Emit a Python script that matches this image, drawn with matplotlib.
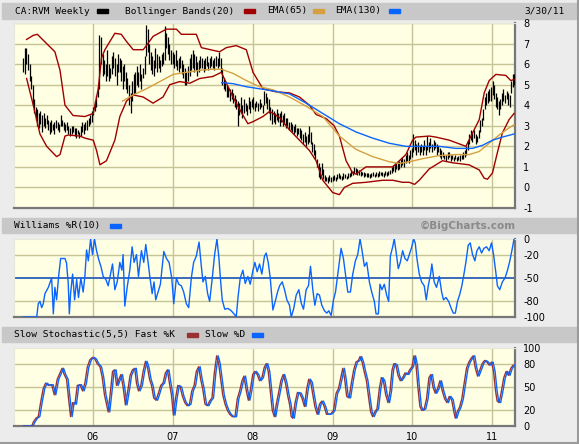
import numpy as np
import matplotlib.pyplot as plt
from matplotlib.patches import Rectangle

# ---- weekly price bars (low / high), first bar ~Feb 2005
lows = [5.6, 5.5, 6.0, 5.7, 5.2, 4.8, 4.0, 3.6, 3.3, 3.0, 2.9, 3.1, 2.7, 3.0, 2.9, 3.1, 2.8, 2.6, 2.7, 2.8,
        2.6, 2.9, 2.8, 2.7, 3.0, 3.0, 2.8, 2.7, 2.8, 2.6, 2.5, 2.6, 2.7, 2.5, 2.4, 2.6, 2.4, 2.5, 2.7, 2.6,
        2.8, 2.8, 3.0, 3.1, 3.2, 3.5, 3.7, 3.9, 4.4, 4.8, 6.0, 5.4, 5.5, 5.2, 5.4, 5.2, 5.3, 5.5, 5.8, 5.4,
        5.0, 5.6, 5.6, 5.2, 4.8, 5.2, 4.8, 4.6, 4.0, 3.6, 4.2, 4.5, 4.6, 5.0, 4.9, 5.2, 4.8, 5.3, 5.5, 6.4,
        6.6, 6.0, 5.7, 5.5, 5.4, 5.8, 5.6, 5.8, 5.6, 5.9, 6.0, 6.2, 6.8, 6.5, 6.2, 6.0, 6.0, 5.8, 5.9, 5.7,
        5.6, 5.8, 5.5, 5.3, 5.0, 5.0, 5.2, 5.4, 5.7, 5.8, 5.6, 5.7, 5.4, 5.6, 5.8, 5.8, 5.6, 5.7, 5.9, 5.7,
        5.8, 5.9, 5.8, 5.7, 5.9, 5.8, 5.9, 5.6, 5.0, 4.8, 4.7, 4.4, 4.4, 4.2, 4.3, 4.1, 3.9, 3.8, 3.0, 3.5,
        3.6, 3.4, 3.6, 3.7, 3.5, 3.8, 3.6, 3.9, 3.8, 3.7, 3.9, 3.7, 3.8, 3.9, 3.6, 4.0, 4.1, 3.8, 3.6, 3.3,
        3.1, 3.2, 3.1, 3.3, 3.2, 3.0, 3.2, 3.0, 3.1, 2.9, 3.0, 2.8, 2.8, 2.7, 2.6, 2.7, 2.5, 2.6, 2.4, 2.3,
        2.1, 2.2, 2.0, 2.1, 2.2, 2.1, 1.7, 1.6, 1.4, 1.0, 0.5, 0.4, 0.6, 0.4, 0.3, 0.3, 0.2, 0.3, 0.25, 0.3,
        0.35, 0.3, 0.4, 0.45, 0.4, 0.35, 0.4, 0.45, 0.4, 0.45, 0.5, 0.55, 0.6, 0.7, 0.65, 0.6, 0.6, 0.55, 0.6, 0.5,
        0.55, 0.5, 0.5, 0.45, 0.5, 0.55, 0.5, 0.55, 0.5, 0.55, 0.6, 0.55, 0.5, 0.6, 0.55, 0.6, 0.65, 0.7, 0.8, 0.75,
        0.9, 0.85, 0.9, 1.0, 1.1, 1.0, 1.2, 1.3, 1.2, 1.4, 1.5, 1.7, 1.8, 1.6, 1.7, 1.6, 1.7, 1.6, 1.8, 1.6,
        1.8, 1.7, 1.9, 1.7, 1.8, 1.9, 1.6, 1.7, 1.5, 1.4, 1.5, 1.4, 1.3, 1.4, 1.5, 1.3, 1.4, 1.3, 1.4, 1.3,
        1.35, 1.3, 1.4, 1.4, 1.5, 1.6, 1.8, 2.1, 2.3, 2.2, 2.4, 2.1, 2.2, 2.4, 2.7, 3.0, 3.3, 3.8, 4.0, 4.1,
        4.2, 4.2, 4.5, 4.3, 3.9, 3.8, 3.5, 3.8, 4.0, 4.2, 4.1, 4.3, 4.0, 3.9, 4.6, 4.9, 5.0]
highs = [6.3, 6.8, 6.8, 6.5, 6.0, 5.4, 5.0, 4.3, 3.9, 3.8, 3.6, 3.7, 3.5, 3.6, 3.4, 3.5, 3.3, 3.2, 3.3, 3.1,
         3.2, 3.3, 3.2, 3.1, 3.5, 3.3, 3.2, 3.1, 3.2, 3.0, 2.9, 3.0, 3.0, 2.9, 2.9, 2.8, 2.7, 3.0, 3.2, 3.1,
         3.2, 3.3, 3.4, 3.5, 3.7, 3.9, 4.2, 4.5, 4.9, 7.4, 7.3, 6.5, 6.2, 6.0, 6.7, 6.0, 5.8, 6.4, 6.6, 6.3,
         6.0, 6.5, 6.3, 6.2, 5.9, 6.0, 5.6, 5.3, 5.0, 4.6, 5.2, 5.5, 5.6, 5.9, 5.6, 6.0, 5.5, 5.8, 6.4, 7.9,
         7.7, 7.0, 6.6, 6.4, 6.2, 6.8, 6.5, 6.4, 6.2, 6.5, 6.6, 7.85, 7.5, 7.3, 7.0, 6.7, 6.6, 6.5, 6.7, 6.2,
         6.3, 6.4, 6.2, 6.0, 5.8, 5.6, 5.9, 6.3, 6.5, 6.7, 6.5, 6.4, 6.1, 6.2, 6.4, 6.3, 6.2, 6.3, 6.4, 6.1,
         6.3, 6.4, 6.2, 6.3, 6.4, 6.3, 6.6, 6.3, 5.8, 5.3, 5.2, 5.0, 4.9, 4.8, 4.8, 4.6, 4.5, 4.3, 4.2, 4.1,
         4.4, 4.0, 4.3, 4.1, 4.0, 4.4, 4.2, 4.3, 4.4, 4.1, 4.2, 4.1, 4.3, 4.1, 4.0, 4.7, 4.6, 4.4, 4.3, 3.9,
         3.8, 3.7, 3.6, 3.8, 3.6, 3.6, 3.7, 3.5, 3.6, 3.4, 3.4, 3.2, 3.2, 3.1, 3.0, 3.1, 2.9, 2.9, 2.9, 2.8,
         2.6, 2.7, 2.5, 2.6, 3.0, 2.7, 2.2, 2.1, 1.8, 1.4, 1.2, 1.0, 1.2, 0.9, 0.6, 0.5, 0.5, 0.6, 0.5, 0.55,
         0.6, 0.5, 0.65, 0.7, 0.6, 0.55, 0.7, 0.65, 0.55, 0.7, 0.7, 0.85, 0.8, 1.0, 0.95, 0.9, 0.85, 0.8, 0.75, 0.75,
         0.7, 0.7, 0.7, 0.65, 0.7, 0.75, 0.65, 0.75, 0.7, 0.8, 0.75, 0.75, 0.7, 0.8, 0.75, 0.8, 0.85, 1.0, 1.1, 1.2,
         1.2, 1.3, 1.3, 1.4, 1.5, 1.4, 1.6, 1.7, 1.6, 1.8, 1.9, 2.6, 2.3, 2.1, 2.2, 2.0, 2.1, 2.0, 2.3, 2.0,
         2.5, 2.2, 2.4, 2.1, 2.3, 2.2, 2.1, 2.0, 1.9, 1.8, 1.7, 1.6, 1.6, 1.7, 1.7, 1.6, 1.6, 1.5, 1.6, 1.5,
         1.55, 1.6, 1.6, 1.7, 1.8, 2.0, 2.3, 2.6, 2.8, 2.7, 2.8, 2.6, 2.5, 2.8, 3.3, 3.4, 3.8, 4.4, 4.6, 4.7,
         4.8, 4.9, 5.2, 5.0, 4.6, 4.4, 4.2, 4.3, 4.6, 4.8, 4.5, 4.7, 4.6, 4.5, 5.2, 5.5, 5.5]

# ---- overlays (week index, value)
bb_up_w = [2.1, 6.4, 9, 20.3, 23.6, 26.8, 32, 39.6, 45, 48.2, 50.3, 52.5, 55.7, 58.9, 63, 66.4, 70.7, 77.1,
           79.2, 83.5, 92, 98.5, 101.7, 111.3, 114.6, 126.3, 130.6, 137, 143.5, 147.8, 154.2, 162.7, 171.3,
           177.7, 184.1, 188.4, 194.9, 200, 203.4, 207.7, 212, 214.1, 220.5, 237.7, 242, 246.2, 250.5, 252.7,
           261.2, 265.5, 274.1, 284.8, 289.1, 293.4, 296.6, 299.8, 304.1, 310.5, 313.7, 315.8]
bb_up = [7.2, 7.4, 7.45, 6.6, 5.7, 4.0, 3.5, 3.45, 3.6, 4.8, 6.3, 6.7, 7.1, 7.5, 7.45, 7.1, 6.7, 6.7,
         6.9, 7.35, 7.7, 7.7, 7.45, 7.45, 6.8, 6.6, 6.8, 6.9, 6.7, 5.6, 4.8, 4.65, 4.6,
         4.4, 4.0, 3.55, 3.35, 3.0, 2.5, 1.3, 0.7, 0.65, 1.0, 1.0, 1.3, 1.6, 2.3, 2.45,
         2.5, 2.45, 2.3, 2.0, 2.65, 3.3, 4.6, 5.2, 5.5, 5.45, 5.2, 5.25]
bb_lo_w = [2.1, 6.4, 10.7, 15, 21.4, 23.6, 26.8, 28.9, 36.4, 39.6, 45, 47.1, 49.3, 53.5, 58.9, 62.1, 66.4,
           70.7, 77.1, 83.5, 89.9, 94.2, 100.6, 107.1, 113.5, 122, 127.4, 134.9, 139.2, 144.5, 147.8, 154.2,
           158.5, 164.9, 171.3, 177.7, 184.1, 188.4, 192.7, 199.1, 203.4, 206.6, 212, 220.5, 231.3, 237.7,
           244.1, 248.4, 251.8, 254.8, 261.2, 269.8, 276.2, 286.9, 293.4, 296.6, 298.7, 301.9, 305.1, 308.3,
           312.6, 315.8]
bb_lo = [5.3, 4.0, 2.6, 2.0, 1.5, 1.6, 2.5, 2.55, 2.5, 2.4, 2.3, 1.8, 1.1, 1.3, 2.3, 3.45, 4.2,
         4.5, 4.4, 4.1, 4.4, 5.0, 5.15, 5.07, 5.3, 5.4, 5.6, 4.4, 3.8, 3.1, 3.2, 3.45,
         3.7, 3.4, 2.8, 2.3, 1.8, 1.3, 0.35, -0.25, -0.35, 0.0, 0.2, 0.25, 0.35, 0.35,
         0.25, 0.25, 0.15, 0.35, 0.9, 1.3, 1.2, 1.1, 0.85, 0.45, 0.4, 0.7, 1.7, 2.65,
         3.3, 3.6]
ema65_w = [63.8, 70.7, 79.2, 87.8, 96.4, 104.9, 113.5, 122, 127.4, 134.9, 143.5, 152, 160.6, 171.3, 182,
           192.7, 203.4, 214.1, 224.8, 235.5, 242, 248.4, 257, 267.7, 278.4, 287, 293.4, 299.8, 306.2,
           312.6, 315.8]
ema65 = [4.2, 4.5, 4.8, 5.15, 5.5, 5.6, 5.7, 5.75, 5.75, 5.55, 5.2, 4.9, 4.75, 4.4, 3.95,
         3.45, 2.5, 1.85, 1.5, 1.25, 1.17, 1.25, 1.4, 1.55, 1.6, 1.6, 1.75, 2.15, 2.55,
         2.9, 3.05]
ema130_w = [127.6, 134.9, 143.5, 152, 160.6, 171.3, 182, 192.7, 203.4, 214.1, 224.8, 235.5, 246.2, 257,
            267.7, 278.4, 289.1, 295.5, 302, 308.3, 315.8]
ema130 = [5.1, 5.05, 4.9, 4.8, 4.7, 4.55, 4.1, 3.6, 3.1, 2.7, 2.4, 2.15, 2.0, 2.0,
          2.0, 1.9, 1.9, 2.05, 2.3, 2.45, 2.6]

# ---- Williams %R(10)
wr_w = [0, 8.6, 9.6, 10.7, 11.8, 12.8, 13.9, 16.1, 18.2, 19.3, 20.3, 21.4, 22.7, 24, 26.8, 27.8, 28.9,
        29.6, 30.4, 31.7, 33, 34.3, 35.5, 37, 38.5, 39.6, 40.7, 41.8, 43.3, 44.5, 45.8, 47.1, 48.6, 49.9,
        51.4, 53.1, 54.6, 56.1, 57.4, 58.9, 60.4, 62.1, 63.4, 64.2, 65.3, 66.8, 68.5, 70, 71.3, 72.8,
        74.1, 76, 77.5, 78.8, 80.3, 81.4, 82.9, 84.1, 85.2, 86.7, 88.2, 90.4, 92.1, 93.8, 95.5, 96.8,
        98.5, 100, 101.7, 103.2, 104.9, 106.4, 108.1, 109.6, 111.3, 113.1, 114.3, 115.6, 117.1, 118.6,
        119.9, 121.6, 123.1, 124.6, 125.9, 126.8, 128, 129.6, 131.7, 133.8, 136, 137, 138.3, 139.6,
        141.3, 142.8, 144.5, 146, 147.8, 149, 150.5, 152, 153.5, 155.2, 156.3, 157.6, 158.9, 160.6,
        162.1, 163.6, 164.9, 166.6, 168.1, 169.6, 171.3, 172.4, 173.9, 175.6, 177.3, 178.8, 180.3, 182,
        183.5, 184.8, 186.3, 187.6, 189.1, 190.6, 192.1, 193.8, 195.3, 196.6, 198.1, 199.6, 200.9,
        202.4, 203.4, 204.5, 206, 207.3, 208.8, 210.5, 212, 213.7, 215.2, 216.7, 218, 219.5, 221,
        222.7, 224.2, 225.9, 227, 228.5, 229.5, 230.8, 232.3, 233.8, 235.1, 236.2, 237.7, 238.7, 239.8,
        241.3, 242.6, 244.1, 245.6, 247.1, 248.4, 249.7, 251.2, 252.2, 253.3, 254.8, 256.3, 258, 259.3,
        260.6, 262.1, 262.9, 264.4, 265.9, 267.7, 269.2, 270.4, 272, 273.7, 275.2, 276.7, 278, 279.4,
        281, 282.2, 283.3, 284.8, 286.3, 287.6, 289.1, 290.6, 291.9, 293.4, 294.9, 296.4, 298.1,
        299.8, 301.3, 302.6, 303.9, 305.1, 306.6, 308.3, 310, 311.6, 313.1, 314.4, 315.8]
wr = [-100, -100, -83, -80, -88, -83, -70, -62, -50, -96, -62, -78, -48, -25, -25, -31, -57,
      -96, -70, -45, -78, -52, -75, -50, -68, -48, -14, -28, 0, -20, 0, -15, -27, -35,
      -48, -52, -60, -45, -32, -65, -55, -30, -40, -20, -86, -62, -40, -10, -30, -20,
      -48, -15, -30, -7, -30, -48, -70, -55, -78, -68, -58, -16, -25, -30, -50, -83,
      -50, -58, -60, -68, -83, -88, -50, -30, -22, -4, -30, -55, -48, -70,
      -80, -50, -20, 0, -25, -50, -78, -90, -89, -92, -97, -100, -72, -50,
      -40, -57, -48, -58, -40, -30, -42, -32, -45, -22, -18, -30, -50, -91,
      -80, -68, -60, -55, -65, -78, -85, -100, -90, -72, -65, -82, -90, -65,
      -60, -35, -65, -85, -70, -72, -85, -92, -95, -92, -98, -78, -68,
      -45, -30, -12, -25, -45, -68, -68, -45, -28, -20, 0, -15, -35, -30,
      -55, -68, -80, -96, -96, -58, -65, -58, -72, -80, -22, -10, 0, -15,
      -38, -30, -15, -25, -28, -20, -12, 0, -5, -25, -45, -55, -60, -78,
      -60, -45, -32, -55, -62, -48, -68, -78, -75, -80, -88, -95, -95, -80,
      -70, -60, -48, -30, -8, -5, -20, -28, -15, -10, -18, -12, -10,
      -15, -5, -20, -40, -60, -65, -55, -50, -40, -28, -15, 0]

# ---- Slow Stochastic(5,5) fast %K
st_w = [0, 5.4, 6.4, 8.1, 9.6, 11.1, 12.8, 14.3, 16.1, 18.2, 19.9, 21.8, 23.6, 24.9, 26.3, 27.8, 29.1,
        30.4, 31.7, 33.2, 34.7, 36.4, 38.1, 39.6, 41.1, 42.8, 44.5, 46, 47.5, 49.3, 50.7, 52.2, 53.5,
        54.6, 56.1, 57.4, 58.7, 60, 61.5, 62.8, 64.2, 65.7, 67.2, 68.7, 70.2, 71.7, 72.8, 74.1, 75.6,
        77.1, 78.6, 79.9, 81.2, 82.5, 83.9, 85.4, 86.9, 88.4, 89.9, 91.4, 92.7, 94, 95.3, 96.6, 97.9,
        99.4, 100.9, 102.4, 103.9, 105.4, 106.9, 108.4, 109.9, 111.3, 112.8, 114.1, 115.4, 116.9,
        118.4, 119.9, 121.4, 122.9, 124.4, 125.7, 127, 128.3, 129.8, 131.3, 132.8, 134.5, 136.2,
        137.7, 139.2, 140.7, 142, 143.5, 144.8, 146, 147.6, 149, 150.5, 152, 153.5, 155, 156.3,
        157.6, 158.9, 160.2, 161.5, 162.8, 164.2, 165.7, 167.2, 168.7, 170.2, 171.3, 172.4, 173.4,
        174.9, 176.4, 177.9, 179.4, 180.9, 182.4, 183.7, 185, 186.3, 187.6, 189.1, 190.6, 192.1,
        193.6, 195.1, 196.6, 198.1, 199.6, 201.3, 202.8, 204.3, 205.6, 206.8, 208.1, 209.6, 211.1,
        212.6, 214.1, 215.6, 216.7, 218, 219.3, 220.8, 222.3, 223.5, 224.8, 226.1, 227.6, 229.1,
        230.4, 231.7, 233.2, 234.7, 236, 237.3, 238.5, 239.8, 241.1, 242.6, 244.1, 245.6, 247.1,
        248.6, 250.1, 251.4, 252.7, 253.9, 255.2, 256.5, 258, 259.5, 261, 262.3, 263.6, 265.1,
        266.6, 268.1, 269.6, 271.1, 272.6, 274.1, 275.6, 277.1, 278, 279.2, 280.7, 282.2, 283.7,
        285.2, 286.7, 288.2, 289.5, 290.8, 292.3, 293.8, 295.3, 296.8, 298.3, 299.8, 301.3, 302.6,
        303.9, 304.9, 306.2, 307.7, 309.2, 310.7, 312.2, 313.7, 315.2]
st_k = [0, 0, 5, 10, 12, 30, 48, 55, 52, 53, 40, 60, 68, 74, 66, 60, 35,
        12, 30, 28, 52, 53, 45, 55, 75, 85, 88, 86, 80, 76, 63, 40, 28,
        18, 45, 70, 72, 52, 60, 66, 50, 27, 45, 65, 72, 74, 55, 45, 52,
        70, 83, 75, 60, 52, 36, 33, 42, 52, 55, 68, 72, 55, 40, 14, 35,
        52, 50, 38, 30, 26, 28, 45, 52, 70, 76, 60, 48, 28,
        26, 32, 36, 68, 90, 80, 60, 40, 28, 20, 15, 12, 12,
        35, 45, 58, 64, 45, 33, 45, 66, 70, 66, 58, 62, 75, 80,
        70, 45, 20, 12, 28, 42, 58, 66, 55, 38, 28, 12, 10,
        30, 43, 42, 35, 25, 48, 60, 56, 40, 25, 15, 28, 32,
        25, 15, 15, 16, 20, 42, 48, 62, 74, 60, 38, 36, 55,
        72, 82, 84, 89, 82, 70, 58, 35, 18, 12, 18, 22, 48,
        62, 58, 40, 30, 45, 72, 80, 78, 65, 58, 62, 68, 66,
        72, 76, 90, 78, 50, 25, 20, 22, 35, 62, 66, 50, 42,
        48, 58, 45, 35, 30, 38, 34, 18, 10, 18, 24, 35, 55,
        74, 82, 87, 90, 75, 64, 72, 80, 84, 82, 78, 82, 70,
        45, 32, 30, 45, 62, 70, 65, 74, 78]

years = [2006, 2007, 2008, 2009, 2010, 2011]
year_labels = ['06', '07', '08', '09', '10', '11']

# x axis in decimal years; weekly bars measured 1/51.4 yr apart on the chart
t0 = 2005.129
step = 1 / 51.4
def to_year(w):
    return t0 + np.asarray(w, dtype=float) * step

W, H = 579, 444
BG = '#ececec'
PLOT_BG = '#ffffe4'
GRID = '#c4c496'
BAR = '#c8c8c8'
RED = '#a00000'
GOLD = '#d4a040'
BLUE = '#0a64ff'

fig = plt.figure(figsize=(W / 100, H / 100), dpi=100, facecolor=BG)

def fx(px):
    return px / W

def fy(py):
    return 1 - py / H

def header(top, bottom):
    fig.add_artist(Rectangle((fx(2), fy(bottom)), fx(575), (bottom - top) / H,
                             transform=fig.transFigure, color=BAR, zorder=0))

def swatch(x0, yc, color):
    fig.add_artist(Rectangle((fx(x0), fy(yc + 2)), fx(11), 4 / H,
                             transform=fig.transFigure, color=color, zorder=2))

def htext(x0, yc, s, **kw):
    fig.text(fx(x0), fy(yc), s, ha='left', va='center', family='DejaVu Sans Mono',
             fontsize=6.8, color='black', **kw)

def panel(top, bottom):
    ax = fig.add_axes([fx(14), fy(bottom), fx(501), (bottom - top) / H])
    ax.set_facecolor(PLOT_BG)
    ax.set_xlim(2005.012, 2011.285)
    for side in ['left', 'top']:
        ax.spines[side].set_color('#e8e8d8')
    for side in ['right', 'bottom']:
        ax.spines[side].set_color('#777777')
        ax.spines[side].set_linewidth(1.6)
    ax.yaxis.tick_right()
    ax.tick_params(length=0, labelsize=7, pad=6, colors='black')
    ax.set_xticks(years)
    ax.set_xticklabels([])
    for y in years:
        ax.axvline(y, color=GRID, lw=1, zorder=0)
    return ax

# ---- headers
header(3, 19)
htext(15, 11, 'CA:RVM Weekly')
swatch(97, 11, 'black')
htext(125, 11, 'Bollinger Bands(20)')
swatch(244, 11, RED)
htext(267, 11, 'EMA(65)')
swatch(313, 11, GOLD)
htext(335, 11, 'EMA(130)')
swatch(389, 11, BLUE)
fig.text(fx(565), fy(11), '3/30/11', ha='right', va='center', family='DejaVu Sans Mono',
         fontsize=6.8)

header(218, 233)
htext(14, 225.5, 'Williams %R(10)')
swatch(110, 225.5, BLUE)
fig.text(fx(516), fy(225.5), '\u00a9BigCharts.com', ha='right', va='center',
         fontsize=7.5, fontweight='bold', color='#8a8a8a')

header(327, 342)
htext(14, 334.5, 'Slow Stochastic(5,5) Fast %K')
swatch(187, 334.5, '#993333')
htext(205, 334.5, 'Slow %D')
swatch(252, 334.5, BLUE)

# ---- main price panel
ax = panel(23, 208)
ax.set_ylim(-1, 8)
ticks = list(range(-1, 9))
ax.set_yticks(ticks)
ax.set_yticklabels([str(v) for v in ticks])
for v in ticks:
    ax.axhline(v, color=GRID, lw=1, zorder=0)
xb = to_year(np.arange(len(lows)))
ax.vlines(xb, lows, highs, color='black', lw=0.9, zorder=3)
ax.plot(to_year(bb_up_w), bb_up, color=RED, lw=1, zorder=4)
ax.plot(to_year(bb_lo_w), bb_lo, color=RED, lw=1, zorder=4)
ax.plot(to_year(ema65_w), ema65, color=GOLD, lw=1, zorder=4)
ax.plot(to_year(ema130_w), ema130, color=BLUE, lw=1, zorder=4)

# ---- Williams %R panel
ax2 = panel(239, 317)
ax2.set_ylim(-100, 0)
ax2.set_yticks([0, -20, -50, -80, -100])
ax2.set_yticklabels(['0', '-20', '-50', '-80', '-100'])
for v in [-20, -80]:
    ax2.axhline(v, color=GRID, lw=1, zorder=0)
ax2.axhline(-50, color='#2b5fb8', lw=1.3, zorder=1)
ax2.plot(to_year(wr_w), wr, color=BLUE, lw=1, zorder=3)

# ---- Stochastic panel
ax3 = panel(348, 426)
ax3.set_ylim(0, 100)
ax3.set_yticks([100, 80, 50, 20, 0])
ax3.set_yticklabels(['100', '80', '50', '20', '0'])
for v in [20, 50, 80]:
    ax3.axhline(v, color=GRID, lw=1, zorder=0)
ax3.plot(to_year(st_w), st_k, color='#993333', lw=1, zorder=3)
# slow %D trails fast %K by about one bar on the chart
ax3.plot(to_year(np.asarray(st_w) + 1), st_k, color=BLUE, lw=1, zorder=4)
ax3.set_xticklabels(year_labels)
ax3.tick_params(axis='x', pad=4)

# outer frame shadow
fig.add_artist(plt.Line2D([0, 1], [fy(443), fy(443)], transform=fig.transFigure,
                          color='#9a9a9a', lw=1.5))
fig.add_artist(plt.Line2D([fx(578), fx(578)], [0, 1], transform=fig.transFigure,
                          color='#9a9a9a', lw=1.5))

fig.savefig('out.png', dpi=100, facecolor=BG)
